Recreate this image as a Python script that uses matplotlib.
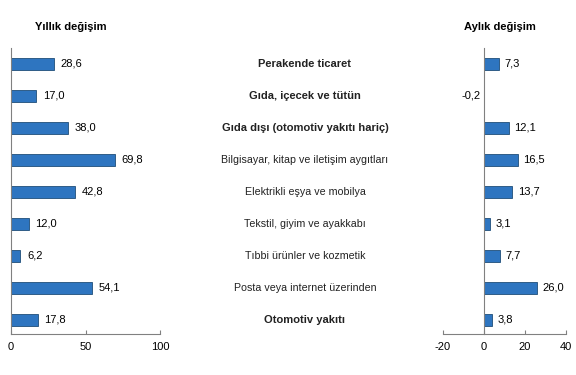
import matplotlib.pyplot as plt
import matplotlib.transforms as mtransforms

plt.rcParams['font.family'] = ['Liberation Sans', 'DejaVu Sans']

categories = [
    "Perakende ticaret",
    "Gıda, içecek ve tütün",
    "Gıda dışı (otomotiv yakıtı hariç)",
    "Bilgisayar, kitap ve iletişim aygıtları",
    "Elektrikli eşya ve mobilya",
    "Tekstil, giyim ve ayakkabı",
    "Tıbbi ürünler ve kozmetik",
    "Posta veya internet üzerinden",
    "Otomotiv yakıtı",
]
bold_rows = [True, True, True, False, False, False, False, False, True]
yillik = [28.6, 17.0, 38.0, 69.8, 42.8, 12.0, 6.2, 54.1, 17.8]
aylik = [7.3, -0.2, 12.1, 16.5, 13.7, 3.1, 7.7, 26.0, 3.8]

bar_color = "#2e75c0"
edge_color = "#1f4e79"
spine_color = "#808080"

fig = plt.figure(figsize=(5.76, 3.75), dpi=100)
bottom = 1 - 334 / 375
top = 1 - 48 / 375
ax1 = fig.add_axes([11 / 576, bottom, (160 - 11) / 576, top - bottom])
ax2 = fig.add_axes([443 / 576, bottom, (566 - 443) / 576, top - bottom])

pos = list(range(len(categories)))

for ax, vals, lim, ticks in [(ax1, yillik, (0, 100), [0, 50, 100]),
                             (ax2, aylik, (-20, 40), [-20, 0, 20, 40])]:
    ax.barh(pos, vals, height=0.37, color=bar_color, edgecolor=edge_color, linewidth=0.6)
    ax.set_xlim(*lim)
    ax.set_ylim(8.45, -0.5)
    ax.set_xticks(ticks)
    ax.set_xticklabels([str(t) for t in ticks], fontsize=8)
    ax.set_yticks([])
    ax.tick_params(axis="x", direction="in", length=3, color=spine_color, pad=6)
    for s in ["top", "right"]:
        ax.spines[s].set_visible(False)
    ax.spines["bottom"].set_color(spine_color)
    ax.spines["left"].set_color(spine_color)
    for y, v in zip(pos, vals):
        txt = f"{v:.1f}".replace(".", ",")
        off = (lim[1] - lim[0]) * 0.045
        if v >= 0:
            ax.text(v + off, y, txt, va="center", ha="left", fontsize=8)
        else:
            ax.text(v - off * 0.6, y, txt, va="center", ha="right", fontsize=8)

ax2.spines["left"].set_position(("data", 0))

trans = mtransforms.blended_transform_factory(fig.transFigure, ax1.transData)
for y, name, b in zip(pos, categories, bold_rows):
    fig.text(305 / 576, y, name, transform=trans, ha="center", va="center",
             fontsize=8 if b else 7.7, fontweight="bold" if b else "normal", color="#222222")

fig.text(71 / 576, 1 - 27 / 375, "Yıllık değişim", ha="center", va="center",
         fontsize=8, fontweight="bold")
fig.text(500 / 576, 1 - 27 / 375, "Aylık değişim", ha="center", va="center",
         fontsize=8, fontweight="bold")

fig.savefig("out.png", dpi=100)
